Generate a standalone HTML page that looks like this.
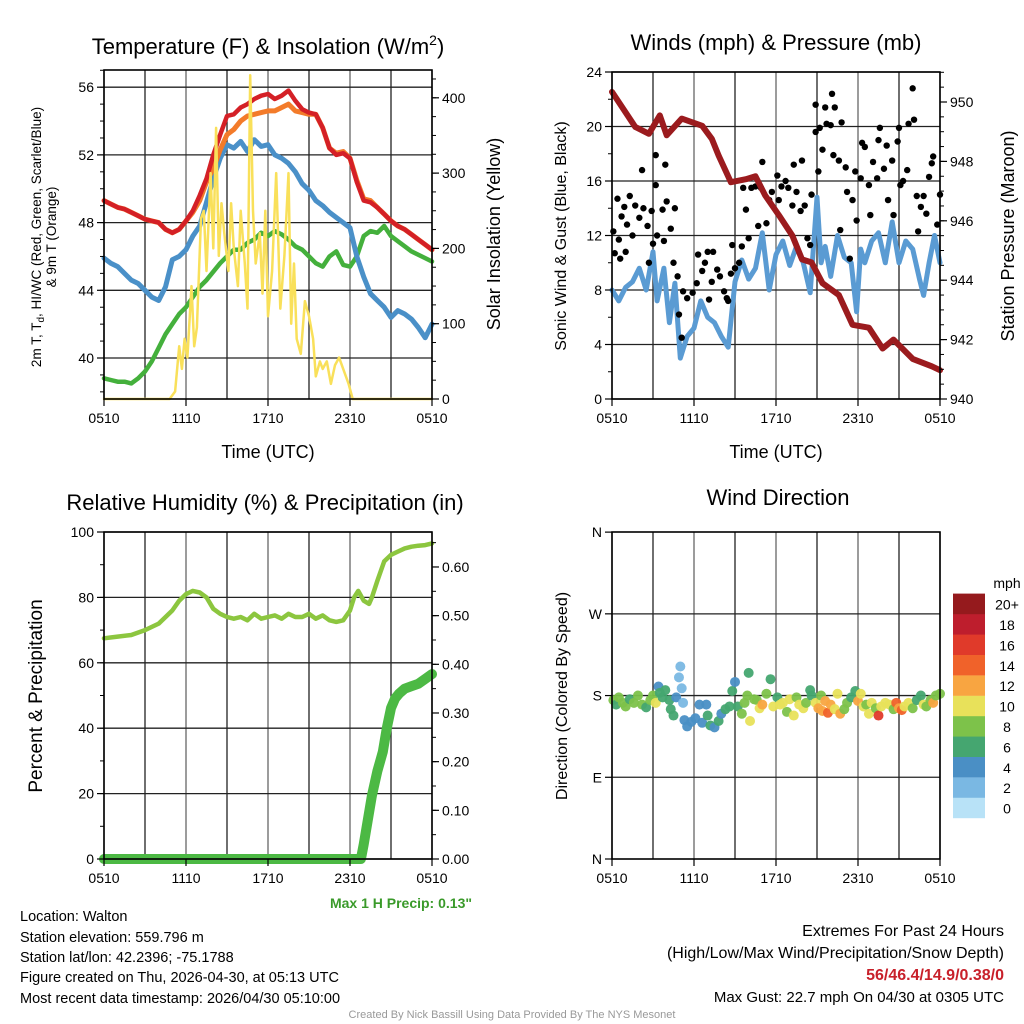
<!DOCTYPE html>
<html><head><meta charset="utf-8"><style>
html,body{margin:0;padding:0;background:#fff;}
svg{display:block;font-family:"Liberation Sans",Arial,sans-serif;}
</style></head><body>
<svg id="c" width="1024" height="1024" viewBox="0 0 1024 1024" xmlns="http://www.w3.org/2000/svg">
<rect width="1024" height="1024" fill="#fff"/>
<g id="grid"></g><g id="marks"></g><g id="axes"></g>
<text x="268" y="54" font-size="22" text-anchor="middle">Temperature (F) &amp; Insolation (W/m<tspan dy="-9" font-size="14">2</tspan><tspan dy="9">)</tspan></text>
<text x="776" y="50" font-size="22" text-anchor="middle">Winds (mph) &amp; Pressure (mb)</text>
<text x="265" y="510" font-size="22" text-anchor="middle">Relative Humidity (%) &amp; Precipitation (in)</text>
<text x="778" y="505" font-size="22" text-anchor="middle">Wind Direction</text>
<text x="268" y="458" font-size="18" text-anchor="middle">Time (UTC)</text>
<text x="776" y="458" font-size="18" text-anchor="middle">Time (UTC)</text>
<text transform="translate(41,237) rotate(-90)" font-size="13.5" text-anchor="middle">2m T, T<tspan dy="3" font-size="10">d</tspan><tspan dy="-3">, HI/WC (Red, Green, Scarlet/Blue)</tspan></text>
<text transform="translate(56,237) rotate(-90)" font-size="13.5" text-anchor="middle">&amp; 9m T (Orange)</text>
<text transform="translate(500,234) rotate(-90)" font-size="18" text-anchor="middle">Solar Insolation (Yellow)</text>
<text transform="translate(566,236) rotate(-90)" font-size="16" text-anchor="middle">Sonic Wind &amp; Gust (Blue, Black)</text>
<text transform="translate(1014,236) rotate(-90)" font-size="18" text-anchor="middle">Station Pressure (Maroon)</text>
<text transform="translate(42,696) rotate(-90)" font-size="19" text-anchor="middle">Percent &amp; Precipitation</text>
<text transform="translate(567,696) rotate(-90)" font-size="16" text-anchor="middle">Direction (Colored By Speed)</text>
<text x="472" y="908" font-size="14" font-weight="bold" fill="#3a9a2a" text-anchor="end">Max 1 H Precip: 0.13"</text>
<g font-size="14.5">
<text x="20" y="921">Location: Walton</text>
<text x="20" y="942">Station elevation: 559.796 m</text>
<text x="20" y="962">Station lat/lon: 42.2396; -75.1788</text>
<text x="20" y="982">Figure created on Thu, 2026-04-30, at 05:13 UTC</text>
<text x="20" y="1003">Most recent data timestamp: 2026/04/30 05:10:00</text>
</g>
<g text-anchor="end">
<text x="1004" y="936" font-size="16">Extremes For Past 24 Hours</text>
<text x="1004" y="958" font-size="16">(High/Low/Max Wind/Precipitation/Snow Depth)</text>
<text x="1004" y="980" font-size="16" font-weight="bold" fill="#c8202a">56/46.4/14.9/0.38/0</text>
<text x="1004" y="1002" font-size="15">Max Gust: 22.7 mph On 04/30 at 0305 UTC</text>
</g>
<text x="512" y="1018" font-size="11" fill="#999" text-anchor="middle">Created By Nick Bassill Using Data Provided By The NYS Mesonet</text>
<text x="1007" y="588" font-size="14" text-anchor="middle">mph</text>
</svg>
<script>
const halfHours=[];for(let i=0;i<=48;i++)halfHours.push(i/2);
const tempRed=[49.3,49.1,48.9,48.8,48.6,48.4,48.2,48.1,48.0,47.6,47.4,47.6,48.1,48.7,49.6,50.6,52.0,53.2,54.3,54.4,54.8,55.0,55.3,55.5,55.6,55.3,55.5,55.8,55.2,54.7,54.5,54.4,53.6,52.4,52.0,52.1,51.8,50.4,49.3,49.2,48.9,48.5,48.1,47.8,47.6,47.3,47.0,46.7,46.4];
const tempOrange=[49.3,49.1,48.9,48.8,48.6,48.4,48.2,48.1,48.0,47.6,47.4,47.6,48.1,48.6,49.3,50.4,51.2,52.3,53.2,53.5,54.0,54.3,54.4,54.5,54.6,54.6,54.8,55.0,54.6,54.5,54.4,54.4,53.6,52.4,52.1,52.2,51.8,50.5,49.4,49.3,48.9,48.5,48.1,47.8,47.6,47.3,47.0,46.7,46.4];
const tempBlue=[45.9,45.6,45.4,45.0,44.6,44.4,44.0,43.6,43.4,44.2,45.8,46.0,46.4,47.2,47.8,49.2,50.6,51.8,52.6,52.4,52.8,52.2,52.9,52.5,52.6,52.0,51.8,51.5,51.0,50.3,49.9,49.3,49.0,48.6,48.3,48.0,47.7,46.0,44.8,43.8,43.4,43.0,42.4,42.8,42.6,42.3,41.8,41.2,42.0];
const tempGreen=[38.8,38.7,38.6,38.6,38.5,38.8,39.2,39.8,40.6,41.4,42.0,42.6,43.0,43.6,44.2,44.6,45.1,45.6,46.0,46.4,46.4,46.8,47.0,47.4,47.2,47.5,47.3,47.0,46.6,46.4,46.0,45.6,45.4,46.0,46.3,45.5,45.4,46.0,47.2,47.5,47.4,47.8,47.2,46.9,46.6,46.3,46.1,45.9,45.7];
const solarHours=[0,4.8,5.2,5.5,5.7,5.9,6.1,6.4,6.6,6.8,7.1,7.3,7.5,7.8,8.0,8.2,8.4,8.6,8.8,9.1,9.3,9.5,9.8,10.0,10.3,10.5,10.7,10.9,11.1,11.4,11.6,11.8,12.0,12.3,12.6,12.9,13.2,13.5,13.7,13.9,14.1,14.4,14.7,15.0,15.3,15.5,15.8,16.0,16.3,16.6,16.9,17.2,17.5,17.9,18.2,24];
const solarValues=[0,0,10,70,40,80,55,150,70,95,240,250,170,300,200,360,190,260,220,170,260,200,150,250,180,120,430,250,180,220,140,250,110,170,300,120,190,300,100,180,80,60,130,110,80,30,50,40,50,20,45,55,40,20,0,0];
const windHours=[0,0.5,1,1.5,2,2.5,3,3.3,3.8,4.2,4.6,5,5.5,6,6.5,7,7.5,8,8.5,9,9.5,10,10.5,11,11.5,12,12.5,13,13.5,14,14.5,15,15.3,15.6,16,16.5,17,17.5,17.9,18.2,18.5,19,19.5,20,20.5,21,21.5,22,22.5,22.8,23.2,23.6,24];
const windSonic=[8,7.2,8.2,8.6,9.6,8,10.8,7.2,9.6,5.6,8.5,3.0,4.6,5.2,7.2,6,5.6,4.6,3.8,8.6,10.2,8.8,9.6,12.2,8,10.6,11.6,9.8,11.2,10,7.8,14.8,10,11.2,9,12,10.4,10,6.4,11,10,11.6,12.2,10,13,10,11.6,11,8.8,7.6,10,12,10];
const pressHours=[0,1.7,2.7,3.5,4,5.1,6.6,7.3,7.8,8.7,9.8,10.5,11.2,12.2,13.2,13.9,14.6,15.4,16.6,17.6,18.8,19.8,20.6,22,23.4,24];
const pressValues=[950.34,949.16,948.93,949.55,948.88,949.44,949.2,948.76,948.2,947.3,947.4,947.5,946.86,946.2,945.5,944.7,944.6,943.9,943.5,942.5,942.4,941.7,942.0,941.35,941.1,940.97];
const gustHours=[0.1,0.2,0.4,0.5,0.6,0.7,0.9,1.0,1.1,1.3,1.5,1.7,2.0,2.2,2.3,2.6,2.7,2.9,3.0,3.2,3.2,3.3,3.7,3.8,3.9,4.0,4.3,4.5,4.6,4.8,4.9,5.1,5.2,5.5,5.9,6.2,6.3,6.6,6.8,7.0,7.1,7.3,7.4,7.7,7.9,8.2,8.4,8.5,8.7,8.8,9.0,9.3,9.5,9.6,9.8,10.0,10.2,10.5,10.7,10.9,11.0,11.3,11.5,11.7,12.1,12.2,12.4,12.7,12.9,13.2,13.3,13.5,13.8,13.9,14.1,14.3,14.5,14.6,14.9,14.9,15.1,15.2,15.4,15.6,15.7,16.0,16.1,16.2,16.3,16.6,16.7,16.8,17.1,17.2,17.4,17.6,17.8,17.9,18.2,18.3,18.5,18.8,18.9,19.1,19.4,19.5,19.6,19.9,20.1,20.2,20.5,20.6,20.9,21.0,21.1,21.3,21.6,21.7,22.0,22.1,22.3,22.4,22.6,22.8,23.0,23.2,23.4,23.5,23.8,24.0];
const gustMph=[12.3,10.7,14.7,11.7,10.3,13.4,14.1,10.8,12.8,14.9,12.0,14.2,13.3,16.8,14.0,12.7,10.0,13.8,11.4,15.7,17.9,12.0,13.9,11.6,17.2,14.5,12.5,10.0,14.0,9.0,6.2,4.5,7.9,7.4,7.8,8.5,10.6,9.4,10.0,10.8,7.3,8.6,10.8,9.5,9.0,7.9,7.4,7.2,9.2,11.3,9.6,10.0,11.2,15.5,13.9,11.8,15.5,15.6,12.7,15.5,17.4,12.9,14.6,15.2,16.4,14.6,15.6,16.0,15.5,14.2,17.2,15.2,13.8,17.5,14.2,11.8,11.3,15.0,19.6,21.6,16.7,19.9,18.3,21.4,20.2,20.1,22.4,17.9,21.4,17.5,12.4,20.3,17.0,15.2,10.3,14.6,16.7,13.1,16.2,18.8,18.5,15.7,13.5,17.4,16.2,19.0,19.9,16.9,18.6,14.6,17.5,13.5,18.9,19.9,15.7,16.0,16.8,20.2,22.8,20.5,14.9,12.3,14.1,14.9,13.6,16.3,17.3,17.8,12.8,15.0];
const rhHours=[0,1,2,3,4,5,5.5,6,6.5,7,7.5,8,8.5,9,9.5,10,10.5,11,11.5,12,12.5,13,13.5,14,14.5,15,15.5,16,16.5,17,17.5,18,18.3,18.6,19,19.4,19.6,20,20.5,21,21.5,22,22.5,23,23.5,24];
const rhValues=[67.5,68,68.5,70,72,76,79,81,82,81.5,80,76.5,75,74,73.5,74,73,75,73.5,74,74.5,73.5,75,74,74,75,73.5,74.5,73,72.5,73,76,80,82,79,78,80,85,91,93,94,95,95.5,95.8,96,96.5];
const precipHours=[0,18.8,19.0,19.3,19.6,20,20.4,20.7,21,21.3,21.6,22,22.5,23,23.5,24];
const precipValues=[0,0,0.03,0.08,0.13,0.18,0.22,0.27,0.31,0.33,0.34,0.35,0.355,0.36,0.37,0.38];
const dirHours=[0.1,0.3,0.5,0.8,1.0,1.3,1.6,1.9,2.2,2.5,2.8,3.0,3.2,3.4,3.5,3.7,3.9,4.2,4.3,4.5,4.7,4.9,5.0,5.1,5.2,5.3,5.5,5.8,6.1,6.4,6.6,6.9,7.0,7.2,7.5,7.8,8.0,8.3,8.6,8.8,9.0,9.2,9.5,9.7,9.9,10.0,10.1,10.4,10.6,10.8,11.0,11.3,11.6,11.8,12.1,12.3,12.5,12.8,13.0,13.3,13.5,13.7,14.0,14.2,14.5,14.6,14.9,15.1,15.3,15.4,15.6,15.8,16.0,16.3,16.5,16.7,17.0,17.2,17.5,17.8,18.0,18.2,18.4,18.6,18.8,19.0,19.3,19.5,19.7,20.0,20.3,20.6,20.8,21.0,21.2,21.4,21.7,22.0,22.3,22.6,22.8,23.0,23.3,23.5,23.7,24.0];
const dirDegrees=[175,170,178,172,168,176,172,180,170,167,175,180,172,190,183,178,186,175,165,158,178,200,212,188,172,153,146,151,155,170,150,170,158,147,145,152,160,165,168,185,195,168,160,172,180,205,152,176,175,166,170,182,198,168,178,170,172,162,176,158,178,170,166,172,186,180,172,166,180,163,174,161,170,165,182,160,165,172,178,185,174,182,168,170,160,172,166,158,168,172,170,165,172,166,164,168,172,166,175,180,170,168,175,172,180,182];
const dirSpeeds=[8,7,8,8,9,7,8,9,8,7,8,9,10,5,6,6,6,7,7,6,4,3,2,3,3,4,4,5,4,4,5,4,6,6,4,6,4,6,6,6,4,6,8,8,8,6,10,9,8,11,12,8,6,10,7,11,10,9,10,10,8,10,10,9,6,7,11,12,8,13,12,14,13,11,10,12,9,8,7,6,13,10,10,9,10,10,9,16,10,11,10,9,15,13,14,11,10,8,7,7,10,9,8,13,9,8];
const speedColors=['#b8e2f7','#7ab8e3','#4a8fc5','#45a670','#7dc24a','#e8e15a','#f8a541','#f0622a','#e03a2a','#be1e2d','#951a1d'];
const speedLabels=['0','2','4','6','8','10','12','14','16','18','20+'];
const timeTicks=['0510','1110','1710','2310','0510'];
const tempTicks=[40,44,48,52,56];
const solarTicks=[0,100,200,300,400];
const windTicks=[0,4,8,12,16,20,24];
const pressTicks=[940,942,944,946,948,950];
const rhTicks=[0,20,40,60,80,100];
const precipTicks=[0,0.1,0.2,0.3,0.4,0.5,0.6];
const dirTicks=[0,90,180,270,360];
const dirTickLabels=['N','E','S','W','N'];

const NS='http://www.w3.org/2000/svg';
const G=document.getElementById('grid'),M=document.getElementById('marks'),A=document.getElementById('axes');
function mk(tag,parent,at){const e=document.createElementNS(NS,tag);for(const k in at)e.setAttribute(k,at[k]);parent.appendChild(e);return e;}
const P1={x0:104,x1:432,y0:70,y1:399},P2={x0:612,x1:940,y0:72,y1:399},P3={x0:104,x1:432,y0:532,y1:859},P4={x0:612,x1:940,y0:532,y1:859};
const xL=h=>104+h*328/24, xR=h=>612+h*328/24;
const yT=v=>358-(v-40)*16.925, yS=v=>399-v*0.753;
const yW=v=>399-v*13.625, yP=p=>399-(p-940)*29.7;
const yR=v=>859-v*3.27, yPr=v=>859-v*486.7;
const yD=d=>859-d*0.908;

function frame(P,name){
  for(let k=0;k<=8;k++){const x=P.x0+k*(P.x1-P.x0)/8;
    const l=mk('line',G,{x1:x,x2:x,y1:P.y0,y2:P.y1,stroke:k%2?'#222':'#666','stroke-width':1.3});
    }
  const r=mk('rect',A,{x:P.x0,y:P.y0,width:P.x1-P.x0,height:P.y1-P.y0,fill:'none',stroke:'#000','stroke-width':1.6});
  
  timeTicks.forEach((t,i)=>{const x=P.x0+i*(P.x1-P.x0)/4;
    mk('line',A,{x1:x,x2:x,y1:P.y1,y2:P.y1+7,stroke:'#000','stroke-width':1.2});
    const tx=mk('text',A,{x:x,y:P.y1+24,'font-size':14,'text-anchor':'middle'});tx.textContent=t;
    });
}
function hgrid(P,ticks,f,name){ticks.forEach(v=>{const y=f(v);
  const l=mk('line',G,{x1:P.x0,x2:P.x1,y1:y,y2:y,stroke:'#222','stroke-width':1.3});
  });}
function yaxis(P,ticks,f,side,name,fmt,minor){
  const x=side==='l'?P.x0:P.x1,d=side==='l'?-1:1;
  if(minor)minor.forEach(v=>{const y=f(v);if(y>=P.y0&&y<=P.y1)mk('line',A,{x1:x,x2:x+d*4,y1:y,y2:y,stroke:'#000','stroke-width':1});});
  ticks.forEach(v=>{const y=f(v);mk('line',A,{x1:x,x2:x+d*7,y1:y,y2:y,stroke:'#000','stroke-width':1.2});
    const t=mk('text',A,{x:x+d*10,y:y+5,'font-size':14,'text-anchor':side==='l'?'end':'start'});t.textContent=fmt(v);
    });
}
function path(xs,ys,fx,fy,color,w,name){
  const d=xs.map((h,i)=>(i?'L':'M')+fx(h).toFixed(1)+','+fy(ys[i]).toFixed(1)).join('');
  const p=mk('path',M,{d:d,fill:'none',stroke:color,'stroke-width':w,'stroke-linejoin':'round','stroke-linecap':'round'});
  return p;}

frame(P1,'temp');hgrid(P1,tempTicks,yT,'temp');
const tminor=[];for(let v=38;v<=57;v++)tminor.push(v);
const sminor=[];for(let v=0;v<=440;v+=25)sminor.push(v);
yaxis(P1,tempTicks,yT,'l','temp-y',v=>v,tminor);
yaxis(P1,solarTicks,yS,'r','solar-y',v=>v,sminor);
path(halfHours,tempGreen,xL,yT,'#44b03c',4.5,'dewpoint-line');
path(halfHours,tempBlue,xL,yT,'#4a90c8',5,'wind-chill-line');
path(halfHours,tempOrange,xL,yT,'#f37b2a',5,'temp-9m-line');
path(halfHours,tempRed,xL,yT,'#d42026',4.5,'temp-2m-line');
path(solarHours,solarValues,xL,yS,'#f9e05a',2.5,'solar-line');

frame(P2,'wind');hgrid(P2,windTicks,yW,'wind');
const wminor=[];for(let v=0;v<=24;v+=2)wminor.push(v);
const pminor=[];for(let v=940;v<=951;v+=0.5)pminor.push(v);
yaxis(P2,windTicks,yW,'l','wind-y',v=>v,wminor);
yaxis(P2,pressTicks,yP,'r','pressure-y',v=>v,pminor);
path(windHours,windSonic,xR,yW,'#5a9bd3',5,'sonic-wind-line');
gustHours.forEach((h,i)=>{const c=mk('circle',M,{cx:xR(h),cy:yW(gustMph[i]),r:3.2,fill:'#000'});
  });
path(pressHours,pressValues,xR,yP,'#9b1b1e',6,'pressure-line');

frame(P3,'rh');hgrid(P3,rhTicks,yR,'rh');
const rminor=[];for(let v=0;v<=100;v+=10)rminor.push(v);
const prminor=[];for(let v=0;v<=0.66;v+=0.05)prminor.push(v);
yaxis(P3,rhTicks,yR,'l','rh-y',v=>v,rminor);
yaxis(P3,precipTicks,yPr,'r','precip-y',v=>v.toFixed(2),prminor);
path(rhHours,rhValues,xL,yR,'#8cc63f',4.5,'rh-line');
path(precipHours,precipValues,xL,yPr,'#4cb944',10,'precip-line');

frame(P4,'dir');hgrid(P4,[90,180,270],yD,'dir');
yaxis(P4,dirTicks,yD,'l','dir-y',v=>dirTickLabels[dirTicks.indexOf(v)],null);
const colorFor=s=>speedColors[Math.min(10,Math.floor(s/2))];
dirHours.forEach((h,i)=>{const c=mk('circle',M,{cx:xR(h),cy:yD(dirDegrees[i]),r:5,fill:colorFor(dirSpeeds[i]),'fill-opacity':0.95});
  });
const cb=mk('g',A,{});
speedColors.forEach((col,i)=>{const y=818-(i+1)*20.4;
  const r=mk('rect',cb,{x:953,y:y,width:32,height:20.6,fill:col});
  
  const t=mk('text',cb,{x:1007,y:y+16,'font-size':14,'text-anchor':'middle'});t.textContent=speedLabels[i];
  });
</script>
</body></html>
